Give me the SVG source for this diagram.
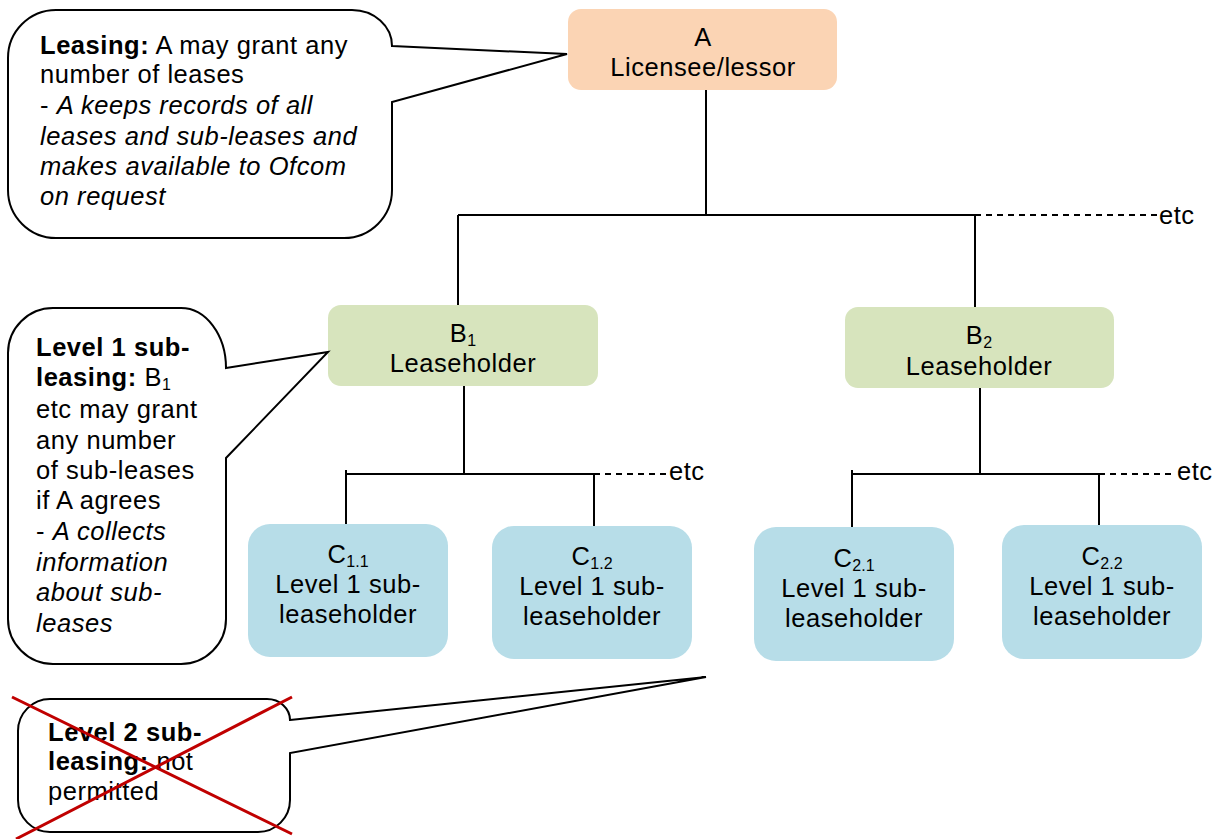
<svg xmlns="http://www.w3.org/2000/svg" width="1217" height="839" viewBox="0 0 1217 839">
<style>
text{font-family:"Liberation Sans",Arial,sans-serif;font-size:25.5px;letter-spacing:0.55px;fill:#000}
.c{text-anchor:middle}
.b{font-weight:bold}
.i{font-style:italic}
.sub{font-size:16px;letter-spacing:0}
.ln{stroke:#000;stroke-width:2;fill:none}
.ds{stroke:#000;stroke-width:2;fill:none;stroke-dasharray:6 5}
.call{fill:#fff;stroke:#000;stroke-width:2}
.na{fill:#FBD4B4}
.nb{fill:#D7E4BD}
.nc{fill:#B7DDE8}
.x{stroke:#C00000;stroke-width:3}
</style>
<rect width="1217" height="839" fill="#fff"/>
<g id="connectors">
<path class="ln" d="M706,90V215M458,215H975M458,215V305M975,215V307"/>
<path class="ds" d="M975,215H1160"/>
<path class="ln" d="M464,386V474M346,474H594M346,470V524M594,474V526"/>
<path class="ds" d="M594,474H668"/>
<path class="ln" d="M980,388V474M852,474H1099M852,470V527M1099,474V525"/>
<path class="ds" d="M1099,474H1175"/>
</g>
<g id="etc-labels">
<text x="1159" y="224">etc</text>
<text x="669" y="480">etc</text>
<text x="1177" y="480">etc</text>
</g>
<g id="node-A">
<rect class="na" x="568" y="9" width="269" height="81" rx="13"/>
<text class="c" x="703" y="46">A</text>
<text class="c" x="703" y="76">Licensee/lessor</text>
</g>
<g id="node-B1">
<rect class="nb" x="328" y="305" width="270" height="81" rx="13"/>
<text class="c" x="463" y="342">B<tspan class="sub" dy="4">1</tspan></text>
<text class="c" x="463" y="372">Leaseholder</text>
</g>
<g id="node-B2">
<rect class="nb" x="845" y="307" width="269" height="81" rx="13"/>
<text class="c" x="979" y="344">B<tspan class="sub" dy="4">2</tspan></text>
<text class="c" x="979" y="375">Leaseholder</text>
</g>
<g id="node-C11">
<rect class="nc" x="248" y="524" width="200" height="133" rx="22"/>
<text class="c" x="348" y="563">C<tspan class="sub" dy="4">1.1</tspan></text>
<text class="c" x="348" y="593">Level 1 sub-</text>
<text class="c" x="348" y="623">leaseholder</text>
</g>
<g id="node-C12">
<rect class="nc" x="492" y="526" width="200" height="133" rx="22"/>
<text class="c" x="592" y="565">C<tspan class="sub" dy="4">1.2</tspan></text>
<text class="c" x="592" y="595">Level 1 sub-</text>
<text class="c" x="592" y="625">leaseholder</text>
</g>
<g id="node-C21">
<rect class="nc" x="754" y="527" width="200" height="134" rx="22"/>
<text class="c" x="854" y="567">C<tspan class="sub" dy="4">2.1</tspan></text>
<text class="c" x="854" y="597">Level 1 sub-</text>
<text class="c" x="854" y="627">leaseholder</text>
</g>
<g id="node-C22">
<rect class="nc" x="1002" y="525" width="200" height="134" rx="22"/>
<text class="c" x="1102" y="565">C<tspan class="sub" dy="4">2.2</tspan></text>
<text class="c" x="1102" y="595">Level 1 sub-</text>
<text class="c" x="1102" y="625">leaseholder</text>
</g>
<g id="callout-leasing">
<path class="call" d="M392,46L567,54L392,102V190A48,48 0 0 1 344,238H56A48,48 0 0 1 8,190V58A48,48 0 0 1 56,10H352A40,36 0 0 1 392,46Z"/>
<text x="40" y="54"><tspan class="b">Leasing:</tspan> A may grant any</text>
<text x="40" y="83">number of leases</text>
<text x="40" y="114">- <tspan class="i">A keeps records of all</tspan></text>
<text x="40" y="145" class="i">leases and sub-leases and</text>
<text x="40" y="175" class="i">makes available to Ofcom</text>
<text x="40" y="205" class="i">on request</text>
</g>
<g id="callout-level1">
<path class="call" d="M226,368L328,352L226,458V619A45,45 0 0 1 181,664H53A45,45 0 0 1 8,619V353A45,45 0 0 1 53,308H181A45,60 0 0 1 226,368Z"/>
<text x="36" y="356" class="b">Level 1 sub-</text>
<text x="36" y="386"><tspan class="b">leasing:</tspan> B<tspan class="sub" dy="4">1</tspan></text>
<text x="36" y="418">etc may grant</text>
<text x="36" y="449">any number</text>
<text x="36" y="479">of sub-leases</text>
<text x="36" y="509">if A agrees</text>
<text x="36" y="540">- <tspan class="i">A collects</tspan></text>
<text x="36" y="571" class="i">information</text>
<text x="36" y="601" class="i">about sub-</text>
<text x="36" y="632" class="i">leases</text>
</g>
<g id="callout-level2">
<path class="call" d="M290,720L706,677L290,753V800A32,32 0 0 1 258,832H50A32,32 0 0 1 18,800V731A32,32 0 0 1 50,699H267A23,21 0 0 1 290,720Z"/>
<text x="48" y="741" class="b">Level 2 sub-</text>
<text x="48" y="770"><tspan class="b">leasing:</tspan> not</text>
<text x="48" y="800">permitted</text>
<path class="x" d="M12,697L292,834M292,697L16,839"/>
</g>
</svg>
